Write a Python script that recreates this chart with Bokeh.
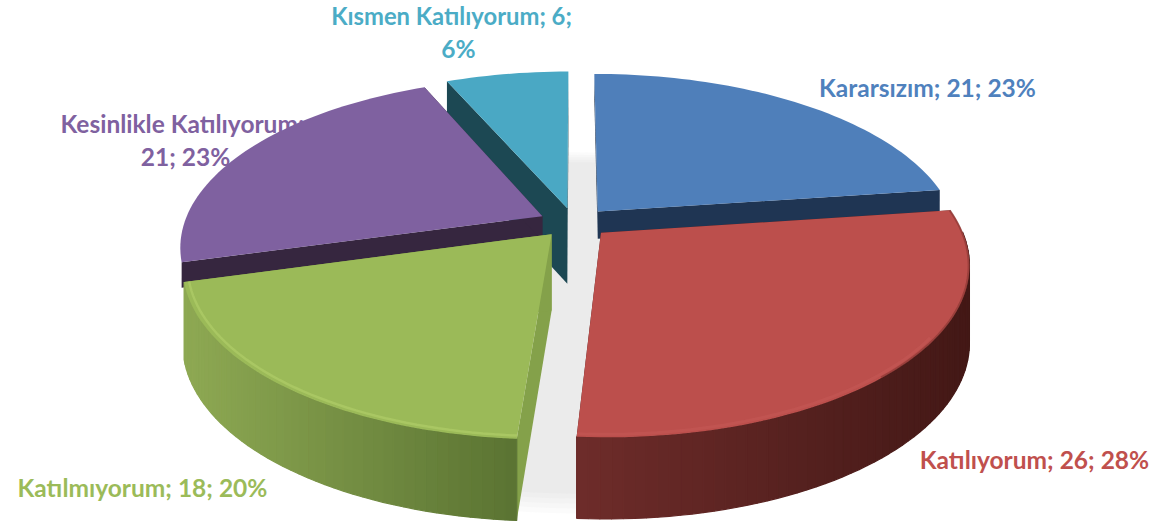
import math
from bokeh.plotting import figure
from bokeh.models import Range1d
from bokeh.core.properties import value as fixed
from bokeh.embed import file_html
from bokeh.resources import INLINE

categories = ["Kararsızım", "Katılıyorum", "Katılmıyorum", "Kesinlikle Katılıyorum", "Kısmen Katılıyorum"]
values = [21, 26, 18, 21, 6]
percents = [23, 28, 20, 23, 6]
top_colors = ["#4f7fba", "#bc4f4c", "#9bba58", "#7f61a0", "#4aa8c4"]
cut_colors = ["#1f3553", "#4a1d1b", "#84a14a", "#36263f", "#1c4853"]
rim_left = ["#1f3553", "#6e2c2a", "#8ea953", "#36263f", "#1c4853"]
rim_right = ["#1f3553", "#431816", "#5a7332", "#36263f", "#1c4853"]
label_colors = ["#4f81bd", "#c0504d", "#9bbb59", "#7f61a0", "#4bacc6"]
wall_depth = [0.36, 1, 1, 0.33, 1]
has_wall = [False, True, True, False, False]
draw_order = [4, 0, 3, 1, 2]

CX, CY, RX, RY, K, EXPL, DEPTH = 574, 222, 358, 165, 0.174, 0.1, 76


def proj(u, v, z=0.0):
    s = 1 / (1 + K * v)
    return CX + RX * u * s, CY - RY * v * s + z * DEPTH * s ** 0.35


def rim_pt(a, mid, z=0.0, r=1.0):
    return proj(EXPL * math.sin(mid) + r * math.sin(a), 0.9 * EXPL * math.cos(mid) + r * math.cos(a), z)


def mix(c1, c2, t):
    a = [int(c1[i:i + 2], 16) for i in (1, 3, 5)]
    b = [int(c2[i:i + 2], 16) for i in (1, 3, 5)]
    return "#%02x%02x%02x" % tuple(round(x + (y - x) * t) for x, y in zip(a, b))


p = figure(width=1156, height=524, x_range=Range1d(0, 1156), y_range=Range1d(524, 0),
           output_backend="svg", toolbar_location=None, min_border=0,
           outline_line_color=None, background_fill_color="white", border_fill_color="white")
p.xaxis.visible = False
p.yaxis.visible = False
p.xgrid.visible = False
p.ygrid.visible = False

# soft shadow beneath the pie
for grow in (1.03, 1.01, 0.99, 0.97, 0.95):
    pts = [proj(grow * math.sin(math.radians(d)), grow * math.cos(math.radians(d)), 1.03) for d in range(0, 360, 3)]
    p.patch([q[0] for q in pts], [q[1] for q in pts], fill_color="#8a8a8a", fill_alpha=0.035, line_color=None)

total = sum(values)
bounds = [0.0]
for val in values:
    bounds.append(bounds[-1] + val / total * 2 * math.pi)

for i in draw_order:
    a0, a1 = bounds[i], bounds[i + 1]
    mid = (a0 + a1) / 2
    dz = wall_depth[i]
    apex = rim_pt(mid, mid, 0, 0)
    apex_b = rim_pt(mid, mid, dz, 0)
    # cut faces
    for a in (a0, a1):
        e0, e1 = rim_pt(a, mid), rim_pt(a, mid, dz)
        p.patch([apex[0], e0[0], e1[0], apex_b[0]], [apex[1], e0[1], e1[1], apex_b[1]],
                fill_color=cut_colors[i], line_color=None)
    # outer wall: only the part that faces the viewer
    n = max(8, int(math.degrees(a1 - a0) / 1.5))
    angles = [a0 + (a1 - a0) * j / n for j in range(n + 1)]
    xs, ys, cols = [], [], []
    x_lo = min(rim_pt(a, mid)[0] for a in angles)
    x_hi = max(rim_pt(a, mid)[0] for a in angles)
    for j in range(n):
        if not has_wall[i] or (math.cos(angles[j]) > 0.0 and math.cos(angles[j + 1]) > 0.0):
            continue
        t0, b0 = rim_pt(angles[j], mid), rim_pt(angles[j], mid, dz)
        t1, b1 = rim_pt(angles[j + 1], mid), rim_pt(angles[j + 1], mid, dz)
        xs.append([t0[0], t1[0], b1[0], b0[0]])
        ys.append([t0[1], t1[1], b1[1], b0[1]])
        t = ((t0[0] + t1[0]) / 2 - x_lo) / (x_hi - x_lo)
        cols.append(mix(rim_left[i], rim_right[i], t))
    if xs:
        p.patches(xs, ys, fill_color=cols, line_color=cols, line_width=1.2)
    # top face
    top = [rim_pt(a, mid) for a in angles]
    p.patch([apex[0]] + [q[0] for q in top], [apex[1]] + [q[1] for q in top],
            fill_color=top_colors[i], line_color=None)
    # bevel along the front rim
    if i == 2:
        bev = [rim_pt(a, mid, 0, 0.987) for a in angles if math.cos(a) < 0.1]
        p.line([q[0] for q in bev], [q[1] for q in bev], line_width=2.5, line_color="#b8d46e", line_alpha=0.5)
    if i == 1:
        bev = [rim_pt(a, mid, 0, 0.988) for a in angles if math.cos(a) < -0.55]
        p.line([q[0] for q in bev], [q[1] for q in bev], line_width=3, line_color="#c85c58", line_alpha=0.45)
        edge = [rim_pt(a, mid, 0, 0.998) for a in angles if math.cos(a) > -0.75]
        p.line([q[0] for q in edge], [q[1] for q in edge], line_width=2, line_color="#7a2f2c", line_alpha=0.5)

# labels
FONT = fixed("Lato")
label_rows = [
    (f"{categories[0]}; {values[0]}; {percents[0]}%", 927, 87, 0, "24.5px"),
    (f"{categories[1]}; {values[1]}; {percents[1]}%", 1034, 459, 1, "24.5px"),
    (f"{categories[2]}; {values[2]}; {percents[2]}%", 142, 487, 2, "24.5px"),
    (f"{categories[3]};", 182, 123, 3, "24.5px"),
    (f"{values[3]}; {percents[3]}%", 185, 156, 3, "24.5px"),
    (f"{categories[4]}; {values[4]};", 451, 15, 4, "23.8px"),
    (f"{percents[4]}%", 458, 48, 4, "24.5px"),
]
for txt, x, y, i, size in label_rows:
    p.text([x], [y], text=[txt], text_font=FONT, text_font_style="bold", text_font_size=size,
           text_color=label_colors[i], text_align="center", text_baseline="middle")

open("out.html", "w").write(file_html(p, INLINE))
